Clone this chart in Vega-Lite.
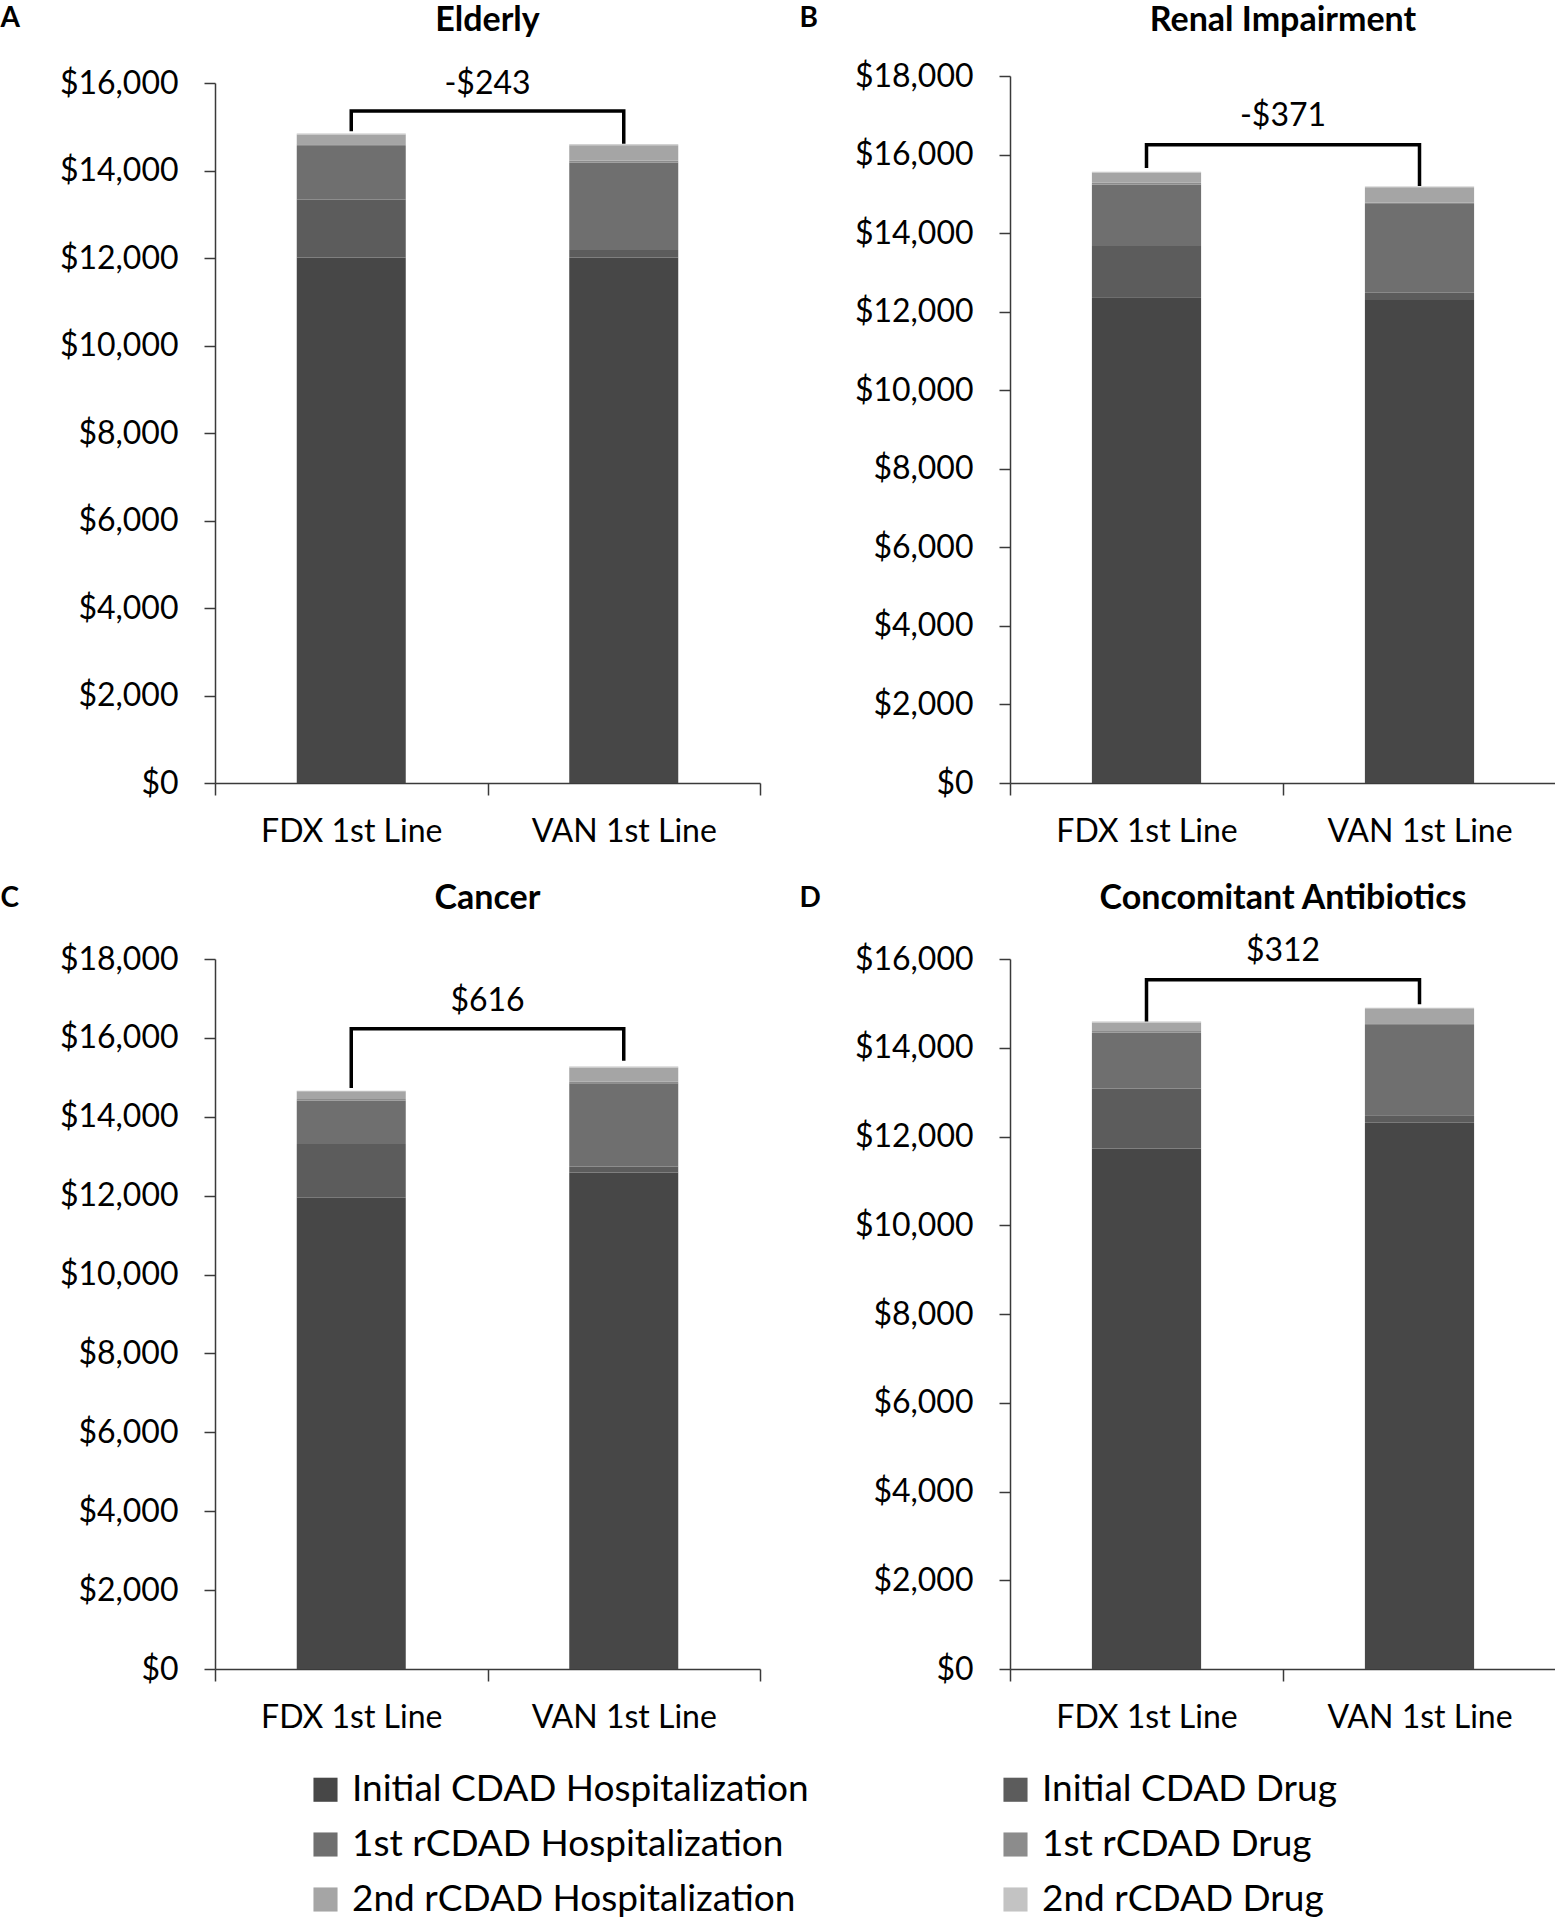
{
  "$schema": "https://vega.github.io/schema/vega-lite/v6.json",
  "padding": {"top": 4, "left": 0, "right": 0, "bottom": 0},
  "background": "white",
  "datasets": {
    "bars": [
      {"p": "A", "drug": "FDX 1st Line", "comp": "Initial CDAD Hospitalization", "k": 1, "cost": 12010},
      {"p": "A", "drug": "FDX 1st Line", "comp": "Initial CDAD Drug", "k": 2, "cost": 1330},
      {"p": "A", "drug": "FDX 1st Line", "comp": "1st rCDAD Hospitalization", "k": 3, "cost": 1220},
      {"p": "A", "drug": "FDX 1st Line", "comp": "1st rCDAD Drug", "k": 4, "cost": 40},
      {"p": "A", "drug": "FDX 1st Line", "comp": "2nd rCDAD Hospitalization", "k": 5, "cost": 225},
      {"p": "A", "drug": "FDX 1st Line", "comp": "2nd rCDAD Drug", "k": 6, "cost": 18},
      {"p": "A", "drug": "VAN 1st Line", "comp": "Initial CDAD Hospitalization", "k": 1, "cost": 12010},
      {"p": "A", "drug": "VAN 1st Line", "comp": "Initial CDAD Drug", "k": 2, "cost": 175},
      {"p": "A", "drug": "VAN 1st Line", "comp": "1st rCDAD Hospitalization", "k": 3, "cost": 2000},
      {"p": "A", "drug": "VAN 1st Line", "comp": "1st rCDAD Drug", "k": 4, "cost": 45},
      {"p": "A", "drug": "VAN 1st Line", "comp": "2nd rCDAD Hospitalization", "k": 5, "cost": 345},
      {"p": "A", "drug": "VAN 1st Line", "comp": "2nd rCDAD Drug", "k": 6, "cost": 25},
      {"p": "B", "drug": "FDX 1st Line", "comp": "Initial CDAD Hospitalization", "k": 1, "cost": 12370},
      {"p": "B", "drug": "FDX 1st Line", "comp": "Initial CDAD Drug", "k": 2, "cost": 1300},
      {"p": "B", "drug": "FDX 1st Line", "comp": "1st rCDAD Hospitalization", "k": 3, "cost": 1570},
      {"p": "B", "drug": "FDX 1st Line", "comp": "1st rCDAD Drug", "k": 4, "cost": 40},
      {"p": "B", "drug": "FDX 1st Line", "comp": "2nd rCDAD Hospitalization", "k": 5, "cost": 260},
      {"p": "B", "drug": "FDX 1st Line", "comp": "2nd rCDAD Drug", "k": 6, "cost": 20},
      {"p": "B", "drug": "VAN 1st Line", "comp": "Initial CDAD Hospitalization", "k": 1, "cost": 12300},
      {"p": "B", "drug": "VAN 1st Line", "comp": "Initial CDAD Drug", "k": 2, "cost": 180},
      {"p": "B", "drug": "VAN 1st Line", "comp": "1st rCDAD Hospitalization", "k": 3, "cost": 2260},
      {"p": "B", "drug": "VAN 1st Line", "comp": "1st rCDAD Drug", "k": 4, "cost": 40},
      {"p": "B", "drug": "VAN 1st Line", "comp": "2nd rCDAD Hospitalization", "k": 5, "cost": 385},
      {"p": "B", "drug": "VAN 1st Line", "comp": "2nd rCDAD Drug", "k": 6, "cost": 24},
      {"p": "C", "drug": "FDX 1st Line", "comp": "Initial CDAD Hospitalization", "k": 1, "cost": 11950},
      {"p": "C", "drug": "FDX 1st Line", "comp": "Initial CDAD Drug", "k": 2, "cost": 1360},
      {"p": "C", "drug": "FDX 1st Line", "comp": "1st rCDAD Hospitalization", "k": 3, "cost": 1100},
      {"p": "C", "drug": "FDX 1st Line", "comp": "1st rCDAD Drug", "k": 4, "cost": 40},
      {"p": "C", "drug": "FDX 1st Line", "comp": "2nd rCDAD Hospitalization", "k": 5, "cost": 195},
      {"p": "C", "drug": "FDX 1st Line", "comp": "2nd rCDAD Drug", "k": 6, "cost": 15},
      {"p": "C", "drug": "VAN 1st Line", "comp": "Initial CDAD Hospitalization", "k": 1, "cost": 12590},
      {"p": "C", "drug": "VAN 1st Line", "comp": "Initial CDAD Drug", "k": 2, "cost": 150},
      {"p": "C", "drug": "VAN 1st Line", "comp": "1st rCDAD Hospitalization", "k": 3, "cost": 2110},
      {"p": "C", "drug": "VAN 1st Line", "comp": "1st rCDAD Drug", "k": 4, "cost": 40},
      {"p": "C", "drug": "VAN 1st Line", "comp": "2nd rCDAD Hospitalization", "k": 5, "cost": 360},
      {"p": "C", "drug": "VAN 1st Line", "comp": "2nd rCDAD Drug", "k": 6, "cost": 26},
      {"p": "D", "drug": "FDX 1st Line", "comp": "Initial CDAD Hospitalization", "k": 1, "cost": 11730},
      {"p": "D", "drug": "FDX 1st Line", "comp": "Initial CDAD Drug", "k": 2, "cost": 1350},
      {"p": "D", "drug": "FDX 1st Line", "comp": "1st rCDAD Hospitalization", "k": 3, "cost": 1260},
      {"p": "D", "drug": "FDX 1st Line", "comp": "1st rCDAD Drug", "k": 4, "cost": 40},
      {"p": "D", "drug": "FDX 1st Line", "comp": "2nd rCDAD Hospitalization", "k": 5, "cost": 190},
      {"p": "D", "drug": "FDX 1st Line", "comp": "2nd rCDAD Drug", "k": 6, "cost": 20},
      {"p": "D", "drug": "VAN 1st Line", "comp": "Initial CDAD Hospitalization", "k": 1, "cost": 12310},
      {"p": "D", "drug": "VAN 1st Line", "comp": "Initial CDAD Drug", "k": 2, "cost": 170},
      {"p": "D", "drug": "VAN 1st Line", "comp": "1st rCDAD Hospitalization", "k": 3, "cost": 2030},
      {"p": "D", "drug": "VAN 1st Line", "comp": "1st rCDAD Drug", "k": 4, "cost": 40},
      {"p": "D", "drug": "VAN 1st Line", "comp": "2nd rCDAD Hospitalization", "k": 5, "cost": 325},
      {"p": "D", "drug": "VAN 1st Line", "comp": "2nd rCDAD Drug", "k": 6, "cost": 27}
    ],
    "brk": [
      {"p": "A", "drug": "FDX 1st Line", "y": 14900, "o": 1},
      {"p": "A", "drug": "FDX 1st Line", "y": 15360, "o": 2},
      {"p": "A", "drug": "VAN 1st Line", "y": 15360, "o": 3},
      {"p": "A", "drug": "VAN 1st Line", "y": 14610, "o": 4},
      {"p": "B", "drug": "FDX 1st Line", "y": 15660, "o": 1},
      {"p": "B", "drug": "FDX 1st Line", "y": 16250, "o": 2},
      {"p": "B", "drug": "VAN 1st Line", "y": 16250, "o": 3},
      {"p": "B", "drug": "VAN 1st Line", "y": 15200, "o": 4},
      {"p": "C", "drug": "FDX 1st Line", "y": 14730, "o": 1},
      {"p": "C", "drug": "FDX 1st Line", "y": 16230, "o": 2},
      {"p": "C", "drug": "VAN 1st Line", "y": 16230, "o": 3},
      {"p": "C", "drug": "VAN 1st Line", "y": 15420, "o": 4},
      {"p": "D", "drug": "FDX 1st Line", "y": 14590, "o": 1},
      {"p": "D", "drug": "FDX 1st Line", "y": 15530, "o": 2},
      {"p": "D", "drug": "VAN 1st Line", "y": 15530, "o": 3},
      {"p": "D", "drug": "VAN 1st Line", "y": 14980, "o": 4}
    ],
    "lab": [
      {"p": "A", "drug": "FDX 1st Line", "y": 15750, "label": "-$243"},
      {"p": "B", "drug": "FDX 1st Line", "y": 16720, "label": "-$371"},
      {"p": "C", "drug": "FDX 1st Line", "y": 16690, "label": "$616"},
      {"p": "D", "drug": "FDX 1st Line", "y": 15950, "label": "$312"}
    ]
  },
  "spacing": 35,
  "vconcat": [
    {
      "spacing": 38,
      "hconcat": [
        {
          "width": 545, "height": 707,
          "title": {"text": "Elderly", "offset": -34},
          "layer": [
            {
              "data": {"name": "bars"},
              "transform": [{"filter": "datum.p === 'A'"}],
              "mark": {"type": "bar", "width": {"band": 0.4}},
              "encoding": {
                "x": {"field": "drug", "type": "nominal", "sort": null, "scale": {"paddingInner": 0, "paddingOuter": 0},
                      "axis": {"title": null, "labelAngle": 0, "labelLimit": 0, "tickBand": "extent", "tickSize": 12, "labelPadding": 21}},
                "y": {"field": "cost", "type": "quantitative", "stack": "zero", "scale": {"domain": [0, 16000], "nice": false, "rangeMax": 7},
                      "axis": {"values": [0, 2000, 4000, 6000, 8000, 10000, 12000, 14000, 16000], "format": "$,.0f", "tickSize": 11, "labelPadding": 26,
                               "title": "A", "titleAngle": 0, "titleX": -215, "titleY": -50, "titleAlign": "left", "titleBaseline": "alphabetic", "titleFontSize": 28, "titleFontWeight": "bold"}},
                "color": {"field": "comp", "type": "nominal",
                          "scale": {"domain": ["Initial CDAD Hospitalization", "Initial CDAD Drug", "1st rCDAD Hospitalization", "1st rCDAD Drug", "2nd rCDAD Hospitalization", "2nd rCDAD Drug"],
                                    "range": ["#474747", "#5c5c5c", "#6f6f6f", "#8c8c8c", "#a5a5a5", "#c3c3c3"]},
                          "legend": {"title": null, "orient": "none", "legendX": 92, "legendY": 1695, "direction": "horizontal", "columns": 2, "columnPadding": 188, "rowPadding": 17, "symbolType": "square", "symbolSize": 580, "symbolStrokeWidth": 0, "labelFontSize": 37, "labelOffset": 8, "labelLimit": 0, "padding": 0}},
                "order": {"field": "k", "type": "quantitative"}
              }
            },
            {
              "data": {"name": "brk"},
              "transform": [{"filter": "datum.p === 'A'"}],
              "mark": {"type": "line", "color": "black", "strokeWidth": 3.5, "strokeJoin": "miter"},
              "encoding": {
                "x": {"field": "drug", "type": "nominal", "sort": null},
                "y": {"field": "y", "type": "quantitative"},
                "order": {"field": "o", "type": "quantitative"}
              }
            },
            {
              "data": {"name": "lab"},
              "transform": [{"filter": "datum.p === 'A'"}],
              "mark": {"type": "text", "baseline": "alphabetic", "fontSize": 32, "color": "black"},
              "encoding": {
                "x": {"field": "drug", "type": "nominal", "sort": null, "bandPosition": 1},
                "y": {"field": "y", "type": "quantitative"},
                "text": {"field": "label"}
              }
            }
          ]
        },
        {
          "width": 546, "height": 707,
          "title": {"text": "Renal Impairment", "offset": -34},
          "layer": [
            {
              "data": {"name": "bars"},
              "transform": [{"filter": "datum.p === 'B'"}],
              "mark": {"type": "bar", "width": {"band": 0.4}},
              "encoding": {
                "x": {"field": "drug", "type": "nominal", "sort": null, "scale": {"paddingInner": 0, "paddingOuter": 0},
                      "axis": {"title": null, "labelAngle": 0, "labelLimit": 0, "tickBand": "extent", "tickSize": 12, "labelPadding": 21}},
                "y": {"field": "cost", "type": "quantitative", "stack": "zero", "scale": {"domain": [0, 18000], "nice": false},
                      "axis": {"values": [0, 2000, 4000, 6000, 8000, 10000, 12000, 14000, 16000, 18000], "format": "$,.0f", "tickSize": 11, "labelPadding": 26,
                               "title": "B", "titleAngle": 0, "titleX": -211, "titleY": -50, "titleAlign": "left", "titleBaseline": "alphabetic", "titleFontSize": 28, "titleFontWeight": "bold"}},
                "color": {"field": "comp", "type": "nominal",
                          "scale": {"domain": ["Initial CDAD Hospitalization", "Initial CDAD Drug", "1st rCDAD Hospitalization", "1st rCDAD Drug", "2nd rCDAD Hospitalization", "2nd rCDAD Drug"],
                                    "range": ["#474747", "#5c5c5c", "#6f6f6f", "#8c8c8c", "#a5a5a5", "#c3c3c3"]},
                          "legend": {"title": null, "orient": "none", "legendX": 92, "legendY": 1695, "direction": "horizontal", "columns": 2, "columnPadding": 188, "rowPadding": 17, "symbolType": "square", "symbolSize": 580, "symbolStrokeWidth": 0, "labelFontSize": 37, "labelOffset": 8, "labelLimit": 0, "padding": 0}},
                "order": {"field": "k", "type": "quantitative"}
              }
            },
            {
              "data": {"name": "brk"},
              "transform": [{"filter": "datum.p === 'B'"}],
              "mark": {"type": "line", "color": "black", "strokeWidth": 3.5, "strokeJoin": "miter"},
              "encoding": {
                "x": {"field": "drug", "type": "nominal", "sort": null},
                "y": {"field": "y", "type": "quantitative"},
                "order": {"field": "o", "type": "quantitative"}
              }
            },
            {
              "data": {"name": "lab"},
              "transform": [{"filter": "datum.p === 'B'"}],
              "mark": {"type": "text", "baseline": "alphabetic", "fontSize": 32, "color": "black"},
              "encoding": {
                "x": {"field": "drug", "type": "nominal", "sort": null, "bandPosition": 1},
                "y": {"field": "y", "type": "quantitative"},
                "text": {"field": "label"}
              }
            }
          ]
        }
      ]
    },
    {
      "spacing": 38,
      "hconcat": [
        {
          "width": 545, "height": 710,
          "title": {"text": "Cancer", "offset": -32},
          "layer": [
            {
              "data": {"name": "bars"},
              "transform": [{"filter": "datum.p === 'C'"}],
              "mark": {"type": "bar", "width": {"band": 0.4}},
              "encoding": {
                "x": {"field": "drug", "type": "nominal", "sort": null, "scale": {"paddingInner": 0, "paddingOuter": 0},
                      "axis": {"title": null, "labelAngle": 0, "labelLimit": 0, "tickBand": "extent", "tickSize": 12, "labelPadding": 21}},
                "y": {"field": "cost", "type": "quantitative", "stack": "zero", "scale": {"domain": [0, 18000], "nice": false},
                      "axis": {"values": [0, 2000, 4000, 6000, 8000, 10000, 12000, 14000, 16000, 18000], "format": "$,.0f", "tickSize": 11, "labelPadding": 26,
                               "title": "C", "titleAngle": 0, "titleX": -215, "titleY": -53, "titleAlign": "left", "titleBaseline": "alphabetic", "titleFontSize": 28, "titleFontWeight": "bold"}},
                "color": {"field": "comp", "type": "nominal",
                          "scale": {"domain": ["Initial CDAD Hospitalization", "Initial CDAD Drug", "1st rCDAD Hospitalization", "1st rCDAD Drug", "2nd rCDAD Hospitalization", "2nd rCDAD Drug"],
                                    "range": ["#474747", "#5c5c5c", "#6f6f6f", "#8c8c8c", "#a5a5a5", "#c3c3c3"]},
                          "legend": {"title": null, "orient": "none", "legendX": 92, "legendY": 1695, "direction": "horizontal", "columns": 2, "columnPadding": 188, "rowPadding": 17, "symbolType": "square", "symbolSize": 580, "symbolStrokeWidth": 0, "labelFontSize": 37, "labelOffset": 8, "labelLimit": 0, "padding": 0}},
                "order": {"field": "k", "type": "quantitative"}
              }
            },
            {
              "data": {"name": "brk"},
              "transform": [{"filter": "datum.p === 'C'"}],
              "mark": {"type": "line", "color": "black", "strokeWidth": 3.5, "strokeJoin": "miter"},
              "encoding": {
                "x": {"field": "drug", "type": "nominal", "sort": null},
                "y": {"field": "y", "type": "quantitative"},
                "order": {"field": "o", "type": "quantitative"}
              }
            },
            {
              "data": {"name": "lab"},
              "transform": [{"filter": "datum.p === 'C'"}],
              "mark": {"type": "text", "baseline": "alphabetic", "fontSize": 32, "color": "black"},
              "encoding": {
                "x": {"field": "drug", "type": "nominal", "sort": null, "bandPosition": 1},
                "y": {"field": "y", "type": "quantitative"},
                "text": {"field": "label"}
              }
            }
          ]
        },
        {
          "width": 546, "height": 710,
          "title": {"text": "Concomitant Antibiotics", "offset": -32},
          "layer": [
            {
              "data": {"name": "bars"},
              "transform": [{"filter": "datum.p === 'D'"}],
              "mark": {"type": "bar", "width": {"band": 0.4}},
              "encoding": {
                "x": {"field": "drug", "type": "nominal", "sort": null, "scale": {"paddingInner": 0, "paddingOuter": 0},
                      "axis": {"title": null, "labelAngle": 0, "labelLimit": 0, "tickBand": "extent", "tickSize": 12, "labelPadding": 21}},
                "y": {"field": "cost", "type": "quantitative", "stack": "zero", "scale": {"domain": [0, 16000], "nice": false},
                      "axis": {"values": [0, 2000, 4000, 6000, 8000, 10000, 12000, 14000, 16000], "format": "$,.0f", "tickSize": 11, "labelPadding": 26,
                               "title": "D", "titleAngle": 0, "titleX": -211, "titleY": -53, "titleAlign": "left", "titleBaseline": "alphabetic", "titleFontSize": 28, "titleFontWeight": "bold"}},
                "color": {"field": "comp", "type": "nominal",
                          "scale": {"domain": ["Initial CDAD Hospitalization", "Initial CDAD Drug", "1st rCDAD Hospitalization", "1st rCDAD Drug", "2nd rCDAD Hospitalization", "2nd rCDAD Drug"],
                                    "range": ["#474747", "#5c5c5c", "#6f6f6f", "#8c8c8c", "#a5a5a5", "#c3c3c3"]},
                          "legend": {"title": null, "orient": "none", "legendX": 92, "legendY": 1695, "direction": "horizontal", "columns": 2, "columnPadding": 188, "rowPadding": 17, "symbolType": "square", "symbolSize": 580, "symbolStrokeWidth": 0, "labelFontSize": 37, "labelOffset": 8, "labelLimit": 0, "padding": 0}},
                "order": {"field": "k", "type": "quantitative"}
              }
            },
            {
              "data": {"name": "brk"},
              "transform": [{"filter": "datum.p === 'D'"}],
              "mark": {"type": "line", "color": "black", "strokeWidth": 3.5, "strokeJoin": "miter"},
              "encoding": {
                "x": {"field": "drug", "type": "nominal", "sort": null},
                "y": {"field": "y", "type": "quantitative"},
                "order": {"field": "o", "type": "quantitative"}
              }
            },
            {
              "data": {"name": "lab"},
              "transform": [{"filter": "datum.p === 'D'"}],
              "mark": {"type": "text", "baseline": "alphabetic", "fontSize": 32, "color": "black"},
              "encoding": {
                "x": {"field": "drug", "type": "nominal", "sort": null, "bandPosition": 1},
                "y": {"field": "y", "type": "quantitative"},
                "text": {"field": "label"}
              }
            }
          ]
        }
      ]
    }
  ],
  "config": {
    "view": {"stroke": null},
    "font": "Lato",
    "axis": {"domainColor": "#3a3a3a", "domainWidth": 1.5, "tickColor": "#3a3a3a", "tickWidth": 1.5, "labelColor": "#000000", "labelFontSize": 32, "labelFont": "Lato", "grid": false, "titleColor": "#000000", "titleFont": "Lato"},
    "title": {"fontSize": 34, "fontWeight": "bold", "color": "#000000", "anchor": "middle", "font": "Lato"},
    "legend": {"labelColor": "#000000", "labelFont": "Lato"}
  }
}
